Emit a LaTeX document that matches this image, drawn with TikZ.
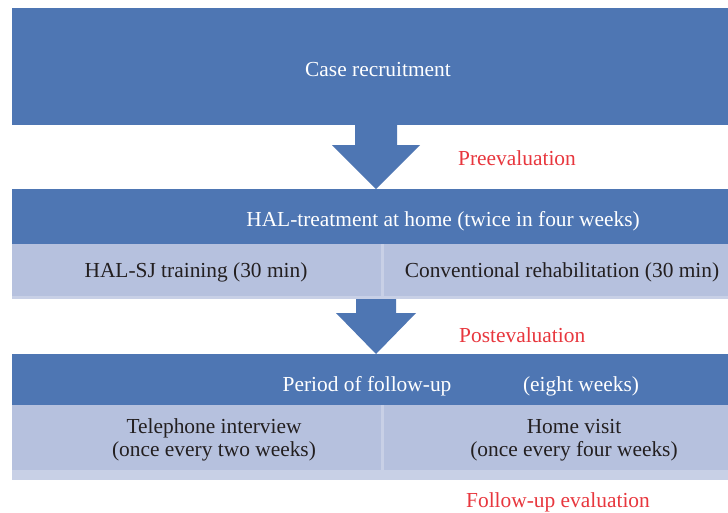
\documentclass[tikz,border=0pt]{standalone}
\usepackage{fontspec}
\setmainfont{Liberation Serif}
\usetikzlibrary{calc}
\definecolor{bandblue}{HTML}{4E76B3}
\definecolor{cellblue}{HTML}{B6C1DE}
\definecolor{rimblue}{HTML}{C8D0E6}
\definecolor{evalred}{HTML}{E8373E}
\definecolor{inkgray}{HTML}{231F20}
\tikzset{
  band/.style={fill=bandblue, inner sep=0, outer sep=0, draw=none},
  cell/.style={fill=cellblue, inner sep=0, outer sep=0, draw=none},
  rim/.style={fill=rimblue, inner sep=0, outer sep=0, draw=none},
  lighttxt/.style={text=white, inner sep=0},
  darktxt/.style={text=inkgray, inner sep=0, align=center},
  evaltxt/.style={text=evalred, inner sep=0},
  every node/.append style={font=\fontsize{21.4}{23}\selectfont},
}
% block arrow: #1 start point on the upper box, #2 tip, #3 shaft half width,
% #4 head half width, #5 head length
\newcommand{\blockarrow}[5]{%
  \fill[bandblue] ($(#1)+(-#3,0)$) -- ($(#1)+(#3,0)$) -- ($(#2)+(#3,-#5)$)
    -- ($(#2)+(#4,-#5)$) -- (#2) -- ($(#2)+(-#4,-#5)$) -- ($(#2)+(-#3,-#5)$) -- cycle;}
\begin{document}
\begin{tikzpicture}[x=1pt,y=-1pt]
\useasboundingbox (0,0) rectangle (728,512);
\fill[white] (0,0) rectangle (728,512);

% stage 1
\node[band, minimum width=732pt, minimum height=117pt] (recruit) at (378,66.5) {};
\node[lighttxt] (recruittxt) at (378,70) {Case recruitment};

% stage 2: treatment at home
\node[band, minimum width=732pt, minimum height=55pt] (treat) at (378,216.5) {};
\node[lighttxt] (treattxt) at (443,221) {HAL-treatment at home (twice in four weeks)};
\node[rim, minimum width=732pt, minimum height=55pt] (treatrow) at (378,271.5) {};
\node[cell, minimum width=369pt, minimum height=52pt] (halsj) at (196.5,270) {};
\node[cell, minimum width=360pt, minimum height=52pt] (conv) at (564,270) {};
\node[darktxt] (halsjtxt) at (196,272.5) {HAL-SJ training (30 min)};
\node[darktxt] (convtxt) at (562,272.5) {Conventional rehabilitation (30 min)};

% stage 3: follow-up
\node[band, minimum width=732pt, minimum height=51pt] (follow) at (378,379.5) {};
\node[lighttxt] (followa) at (367,386.5) {Period of follow-up};
\node[lighttxt] (followb) at (581,386.5) {(eight weeks)};
\node[rim, minimum width=732pt, minimum height=75pt] (followrow) at (378,442.5) {};
\node[cell, minimum width=369pt, minimum height=65pt] (phone) at (196.5,437.5) {};
\node[cell, minimum width=360pt, minimum height=65pt] (visit) at (564,437.5) {};
\node[darktxt] (phonetxt) at (214,440) {Telephone interview\\(once every two weeks)};
\node[darktxt] (visittxt) at (574,440) {Home visit\\(once every four weeks)};

% arrows between stages
\coordinate (ax) at (376,0);
\coordinate (a1s) at (recruit.south -| ax);
\coordinate (a1t) at (treat.north -| ax);
\blockarrow{a1s}{a1t}{21}{44}{44}
\coordinate (a2s) at (treatrow.south -| ax);
\coordinate (a2t) at (follow.north -| ax);
\blockarrow{a2s}{a2t}{20}{40}{41}

% evaluation labels
\node[evaltxt, anchor=west] (pre) at (458,158.5) {Preevaluation};
\node[evaltxt, anchor=west] (post) at (459,335) {Postevaluation};
\node[evaltxt] (fu) at (558,502.5) {Follow-up evaluation};
\end{tikzpicture}
\end{document}
